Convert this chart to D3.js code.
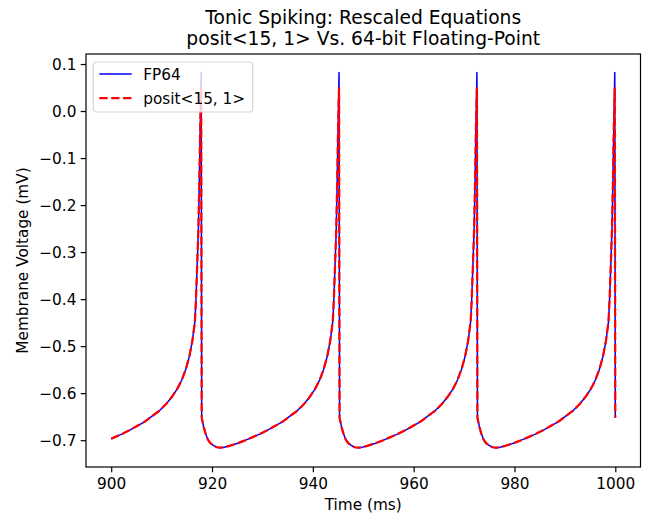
<!DOCTYPE html>
<html>
<head>
<meta charset="utf-8">
<script src="https://cdn.jsdelivr.net/npm/d3@7"></script>
<style>
  body { margin: 0; background: #fff; }
  svg { display: block; font-family: "DejaVu Sans", sans-serif; }
</style>
</head>
<body>
<svg id="chart"></svg>
<script>
// time (ms), one row per inter-spike cycle
const time = [
  900.0, 900.6, 902.1, 903.6, 905.1, 906.6, 908.1, 909.6, 910.9, 912.1, 913.1, 914.0, 914.8, 915.5, 916.1, 916.6, 916.8, 917.05, 917.3, 917.5, 917.65, 917.75, 917.85,
  917.95, 918.35, 918.75, 919.15, 919.65, 920.25, 920.95, 921.65, 922.45, 923.45, 924.95, 926.45, 927.95, 929.45, 930.95, 932.45, 933.95, 935.45, 936.95, 938.25, 939.45, 940.45, 941.35, 942.15, 942.85, 943.45, 943.95, 944.15, 944.4, 944.65, 944.85, 945.0, 945.1, 945.2,
  945.3, 945.7, 946.1, 946.5, 947.0, 947.6, 948.3, 949.0, 949.8, 950.8, 952.3, 953.8, 955.3, 956.8, 958.3, 959.8, 961.3, 962.8, 964.3, 965.6, 966.8, 967.8, 968.7, 969.5, 970.2, 970.8, 971.3, 971.5, 971.75, 972.0, 972.2, 972.35, 972.45, 972.55,
  972.65, 973.05, 973.45, 973.85, 974.35, 974.95, 975.65, 976.35, 977.15, 978.15, 979.65, 981.15, 982.65, 984.15, 985.65, 987.15, 988.65, 990.15, 991.65, 992.95, 994.15, 995.15, 996.05, 996.85, 997.55, 998.15, 998.65, 998.85, 999.1, 999.35, 999.55, 999.7, 999.8, 999.9, 1000.0
];

// FP64 membrane voltage
const fp64 = [
  -0.697, -0.694, -0.687, -0.679, -0.670, -0.661, -0.649, -0.637, -0.623, -0.607, -0.591, -0.572, -0.549, -0.522, -0.489, -0.448, -0.405, -0.330, -0.250, -0.140, -0.040, 0.020, 0.082,
  -0.652, -0.672, -0.687, -0.698, -0.706, -0.711, -0.715, -0.716, -0.715, -0.712, -0.707, -0.701, -0.694, -0.687, -0.679, -0.670, -0.661, -0.649, -0.637, -0.623, -0.607, -0.591, -0.572, -0.549, -0.522, -0.489, -0.448, -0.405, -0.330, -0.250, -0.140, -0.040, 0.020, 0.082,
  -0.652, -0.672, -0.687, -0.698, -0.706, -0.711, -0.715, -0.716, -0.715, -0.712, -0.707, -0.701, -0.694, -0.687, -0.679, -0.670, -0.661, -0.649, -0.637, -0.623, -0.607, -0.591, -0.572, -0.549, -0.522, -0.489, -0.448, -0.405, -0.330, -0.250, -0.140, -0.040, 0.020, 0.082,
  -0.652, -0.672, -0.687, -0.698, -0.706, -0.711, -0.715, -0.716, -0.715, -0.712, -0.707, -0.701, -0.694, -0.687, -0.679, -0.670, -0.661, -0.649, -0.637, -0.623, -0.607, -0.591, -0.572, -0.549, -0.522, -0.489, -0.448, -0.405, -0.330, -0.250, -0.140, -0.040, 0.020, 0.082, -0.652
];

// posit<15, 1> membrane voltage (same except the spike tops)
const posit = [
  -0.697, -0.694, -0.687, -0.679, -0.670, -0.661, -0.649, -0.637, -0.623, -0.607, -0.591, -0.572, -0.549, -0.522, -0.489, -0.448, -0.405, -0.330, -0.250, -0.140, -0.040, 0.008, 0.048,
  -0.652, -0.672, -0.687, -0.698, -0.706, -0.711, -0.715, -0.716, -0.715, -0.712, -0.707, -0.701, -0.694, -0.687, -0.679, -0.670, -0.661, -0.649, -0.637, -0.623, -0.607, -0.591, -0.572, -0.549, -0.522, -0.489, -0.448, -0.405, -0.330, -0.250, -0.140, -0.040, 0.008, 0.048,
  -0.652, -0.672, -0.687, -0.698, -0.706, -0.711, -0.715, -0.716, -0.715, -0.712, -0.707, -0.701, -0.694, -0.687, -0.679, -0.670, -0.661, -0.649, -0.637, -0.623, -0.607, -0.591, -0.572, -0.549, -0.522, -0.489, -0.448, -0.405, -0.330, -0.250, -0.140, -0.040, 0.008, 0.048,
  -0.652, -0.672, -0.687, -0.698, -0.706, -0.711, -0.715, -0.716, -0.715, -0.712, -0.707, -0.701, -0.694, -0.687, -0.679, -0.670, -0.661, -0.649, -0.637, -0.623, -0.607, -0.591, -0.572, -0.549, -0.522, -0.489, -0.448, -0.405, -0.330, -0.250, -0.140, -0.040, 0.008, 0.048, -0.652
];

const xTicks = [900, 920, 940, 960, 980, 1000];
const yTicks = [-0.7, -0.6, -0.5, -0.4, -0.3, -0.2, -0.1, 0.0, 0.1];
const titleLines = ["Tonic Spiking: Rescaled Equations", "posit<15, 1> Vs. 64-bit Floating-Point"];
const seriesNames = ["FP64", "posit<15, 1>"];

const width = 651, height = 513;
const margin = { top: 54, right: 10.5, bottom: 46, left: 86 }; // axes box in px
const innerW = width - margin.left - margin.right;
const innerH = height - margin.top - margin.bottom;
const fs = 15.3;
const tickLen = 5.3;

const svg = d3.select("#chart").attr("width", width).attr("height", height);

const x = d3.scaleLinear().domain([895, 1005]).range([0, innerW]);
const y = d3.scaleLinear().domain([-0.757, 0.1213]).range([innerH, 0]);

const g = svg.append("g").attr("transform", `translate(${margin.left},${margin.top})`);

const series = [
  { name: seriesNames[0], values: fp64, color: "blue", width: 1.5, dash: null },
  { name: seriesNames[1], values: posit, color: "red", width: 2.25, dash: "8.3,3.6" }
];

const line = d3.line().x(d => x(d.t)).y(d => y(d.v));

series.forEach(s => {
  const pts = time.map((t, i) => ({ t: t, v: s.values[i] }));
  g.append("path")
    .datum(pts)
    .attr("fill", "none")
    .attr("stroke", s.color)
    .attr("stroke-width", s.width)
    .attr("stroke-dasharray", s.dash)
    .attr("stroke-linejoin", "round")
    .attr("d", line);
});

// axes
const xAxis = g.append("g")
  .attr("transform", `translate(0,${innerH})`)
  .call(d3.axisBottom(x).tickValues(xTicks).tickFormat(d3.format("d")).tickSizeInner(tickLen).tickSizeOuter(0).tickPadding(5.3));
const yAxis = g.append("g")
  .call(d3.axisLeft(y).tickValues(yTicks).tickFormat(d3.format(".1f")).tickSizeInner(tickLen).tickSizeOuter(0).tickPadding(4.3));

[xAxis, yAxis].forEach(a => {
  a.select(".domain").remove();
  a.selectAll(".tick line").attr("stroke", "#000").attr("stroke-width", 1.2);
  a.selectAll(".tick text").attr("fill", "#000").style("font-size", fs + "px").style("font-family", "DejaVu Sans");
});
yAxis.selectAll(".tick text").attr("dy", "0.36em");
xAxis.selectAll(".tick text").attr("dy", "0.76em");

// spines
g.append("rect")
  .attr("width", innerW).attr("height", innerH)
  .attr("fill", "none").attr("stroke", "#000").attr("stroke-width", 1.2);

// labels
svg.append("text")
  .attr("x", margin.left + innerW / 2).attr("y", 509.5)
  .attr("text-anchor", "middle").style("font-size", fs + "px")
  .text("Time (ms)");
svg.append("text")
  .attr("transform", `translate(27.5,${margin.top + innerH / 2}) rotate(-90)`)
  .attr("text-anchor", "middle").style("font-size", fs + "px")
  .text("Membrane Voltage (mV)");

svg.selectAll(".title")
  .data(titleLines)
  .join("text")
  .attr("class", "title")
  .attr("x", margin.left + innerW / 2)
  .attr("y", (d, i) => 23.5 + i * 21.5)
  .attr("text-anchor", "middle")
  .style("font-size", "18.7px")
  .text(d => d);

// legend
const lg = svg.append("g").attr("transform", `translate(93.3,62)`);
lg.append("rect")
  .attr("width", 159.4).attr("height", 50).attr("rx", 3)
  .attr("fill", "rgba(255,255,255,0.8)").attr("stroke", "#d6d6d6").attr("stroke-width", 1.2);
series.forEach((s, i) => {
  const cy = 12 + i * 24.2;
  lg.append("line")
    .attr("x1", 6).attr("x2", 38.4).attr("y1", cy).attr("y2", cy)
    .attr("stroke", s.color).attr("stroke-width", s.width).attr("stroke-dasharray", s.dash);
  lg.append("text")
    .attr("x", 50).attr("y", cy + 5.5)
    .style("font-size", fs + "px")
    .text(s.name);
});
</script>
</body>
</html>
